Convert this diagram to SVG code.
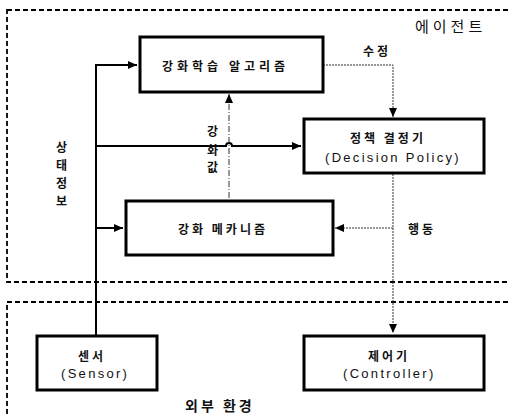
<svg xmlns="http://www.w3.org/2000/svg" width="510" height="415" viewBox="0 0 510 415">
<style>
.frame{fill:none;stroke:#000;stroke-width:1.8;stroke-dasharray:5 3}
.box{fill:#fff;stroke:#000;stroke-width:3}
.kr{font-family:"Noto Sans CJK KR","Noto Sans",sans-serif;font-weight:bold;font-size:12px;letter-spacing:3px;fill:#111;dominant-baseline:central}
.en{font-family:"Liberation Sans",Arial,sans-serif;font-size:13px;letter-spacing:2.3px;fill:#111;dominant-baseline:central}
.solid{fill:none;stroke:#000;stroke-width:2}
.dot{fill:none;stroke:#333;stroke-width:1;stroke-dasharray:2 1}
.dashdot{fill:none;stroke:#333;stroke-width:1;stroke-dasharray:6 2 1 2}
</style>
<defs>
<marker id="ah" markerUnits="userSpaceOnUse" markerWidth="10" markerHeight="10" refX="9" refY="5" orient="auto">
<path d="M0,1 L9,5 L0,9 Z" fill="#000"/>
</marker>
</defs>
<g id="frames">
<rect class="frame" x="7" y="10" width="510" height="272"/>
<rect class="frame" x="7" y="302" width="510" height="130"/>
<text class="kr" x="415" y="25" style="font-size:15px;letter-spacing:4px;font-weight:normal">에이전트</text>
<text class="kr" x="185" y="405" style="font-size:14px;letter-spacing:3px">외부 환경</text>
</g>
<g id="connectors">
<path class="solid" d="M96,335 V65 H137" marker-end="url(#ah)"/>
<path class="solid" d="M96,146 H226 a3,3 0 0 1 6,0 H301" marker-end="url(#ah)"/>
<path class="solid" d="M96,228 H123" marker-end="url(#ah)"/>
<path class="dot" d="M323,65 H393 V117" marker-end="url(#ah)"/>
<path class="dot" d="M393,174 V333" marker-end="url(#ah)"/>
<path class="dot" d="M393,228 H335" marker-end="url(#ah)"/>
<path class="dashdot" d="M229,198 V94" marker-end="url(#ah)"/>
<text class="kr" x="363" y="50">수정</text>
<text class="kr" x="408" y="228">행동</text>
<text class="kr" x="207" y="130">강</text>
<text class="kr" x="207" y="149">화</text>
<text class="kr" x="207" y="166">값</text>
<text class="kr" x="56" y="146">상</text>
<text class="kr" x="56" y="164">태</text>
<text class="kr" x="56" y="182">정</text>
<text class="kr" x="56" y="200">보</text>
</g>
<g id="rl-algorithm">
<rect class="box" x="140" y="37" width="183" height="55"/>
<text class="kr" x="162" y="65" style="letter-spacing:4px">강화학습 알고리즘</text>
</g>
<g id="decision-policy">
<rect class="box" x="304" y="119" width="180" height="54"/>
<text class="kr" x="350" y="137">정책 결정기</text>
<text class="en" x="325" y="157">(Decision Policy)</text>
</g>
<g id="reinforcement-mechanism">
<rect class="box" x="126" y="201" width="207" height="54"/>
<text class="kr" x="178" y="228">강화 메카니즘</text>
</g>
<g id="sensor">
<rect class="box" x="37" y="336" width="120" height="54"/>
<text class="kr" x="78" y="355">센서</text>
<text class="en" x="61" y="373">(Sensor)</text>
</g>
<g id="controller">
<rect class="box" x="304" y="336" width="180" height="54"/>
<text class="kr" x="368" y="355">제어기</text>
<text class="en" x="343" y="373">(Controller)</text>
</g>
</svg>
